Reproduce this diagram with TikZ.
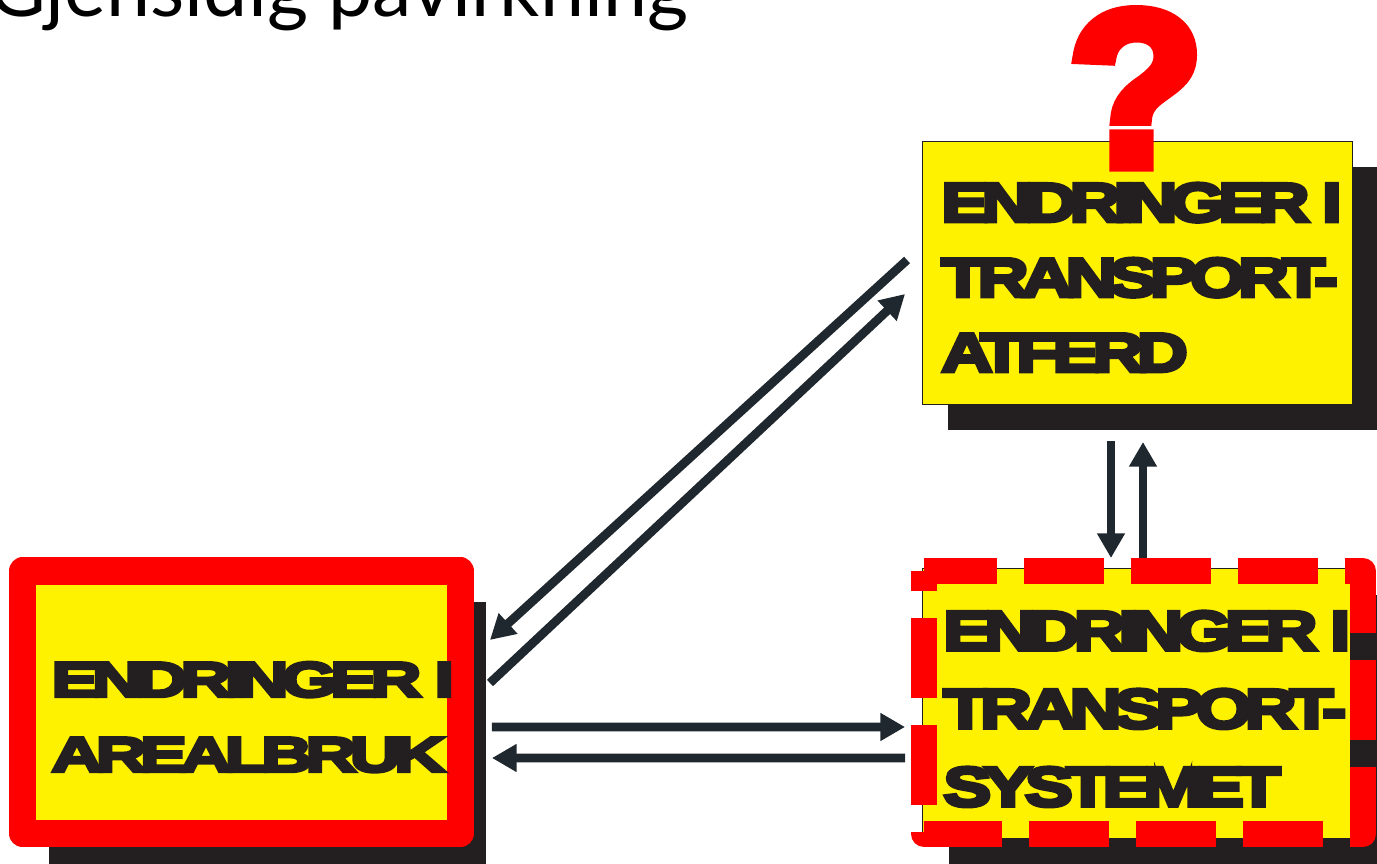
\documentclass[tikz,border=0pt]{standalone}
\usepackage{fontspec}
\usetikzlibrary{arrows.meta,calc,shadows}

\newfontfamily\titlefont{Lato}
\newfontfamily\boxfont{Liberation Sans Bold}[FakeStretch=1.3,LetterSpace=-13,FakeBold=7]
\newfontfamily\widefont{Liberation Sans Bold}[FakeStretch=1.45,LetterSpace=-14,FakeBold=7]
\newfontfamily\markfont{Liberation Sans Bold}[FakeBold=6]

\definecolor{boxyellow}{HTML}{FFF200}
\definecolor{framered}{HTML}{FF0000}
\definecolor{shadowcol}{HTML}{231F20}
\definecolor{arrowcol}{HTML}{1F282E}

\tikzset{
    box/.style={fill=boxyellow, draw=shadowcol, line width=0.4pt,
        inner sep=0pt, outer sep=0pt},
    castshadow/.style 2 args={drop shadow={shadow xshift=#1, shadow yshift=-#2,
        fill=shadowcol, opacity=1}},
    boxtext/.style={anchor=north west, inner sep=0pt, align=left, text=shadowcol},
    arr/.style={draw=arrowcol, line width=5pt,
        -{Triangle[length=14pt, width=15pt]}},
}

\begin{document}
\begin{tikzpicture}[x=0.02cm, y=-0.02cm]
\useasboundingbox (0, 0) rectangle (1377, 864);

% title
\node [anchor=base west, inner sep=0pt, font=\titlefont\fontsize{45}{45}\selectfont]
    (title) at (-12, 17) {Gjensidig påvirkning};


% boxes
\node [box, castshadow={14.8pt}{14.8pt}, minimum width=8.6cm, minimum height=5.26cm]
    (atferd) at (1137, 272.5) {};
\node [box, castshadow={15.4pt}{15.4pt}, minimum width=8.56cm, minimum height=5.4cm]
    (system) at (1136, 703) {};
\node [box, draw=framered, line width=15.4pt, line join=round,
    castshadow={14.8pt}{17.6pt}, minimum width=8.76cm, minimum height=5.25cm]
    (areal) at (241.5, 702.25) {};

\coordinate (frameNW) at ($(system.north west)+(2, 3)$);
\coordinate (frameSE) at ($(system.south east)+(13, -4)$);
\draw [framered, line width=14.8pt, line join=round,
    dash pattern=on 45.5pt off 15.4pt, dash phase=4pt]
    (frameNW) -| (frameSE) -| (frameNW) -- cycle;


% texts
\node [boxtext, font=\boxfont\fontsize{31}{42.7}\selectfont]
    (atferdtext) at (941, 183) {ENDRINGER I\\TRANSPORT-\\ATFERD};
\node [boxtext, font=\boxfont\fontsize{31.5}{44.4}\selectfont]
    (systemtext) at (943, 611) {ENDRINGER I\\TRANSPORT-\\SYSTEMET};
\node [boxtext, font=\widefont\fontsize{27.8}{42.7}\selectfont]
    (arealtext) at (51, 662) {ENDRINGER I\\AREALBRUK};

\node [anchor=base, inner sep=0pt, text=framered,
    font=\markfont\fontsize{125}{125}\selectfont] (mark) at (1136, 165) {?};


% arrows
\begin{scope}
    \draw [arr] ($(atferd.west)+(-15, -12.5)$) -- ($(areal.east)+(29.5, -62.25)$);
    \draw [arr] ($(areal.east)+(29.5, -19.25)$) -- ($(atferd.west)+(-17, 21.5)$);
    \draw [arr] ($(areal.east)+(31.5, 24.75)$) -- ($(system.west)+(-17, 24)$);
    \draw [arr] ($(system.west)+(-17, 55)$) -- ($(areal.east)+(31.5, 55.75)$);
    \draw [arr] ($(atferd.south)+(-26, 37)$) -- ($(system.north)+(-25, -10)$);
    \draw [arr] ($(system.north)+(7, -10)$) -- ($(atferd.south)+(6, 38)$);
\end{scope}

\end{tikzpicture}
\end{document}
